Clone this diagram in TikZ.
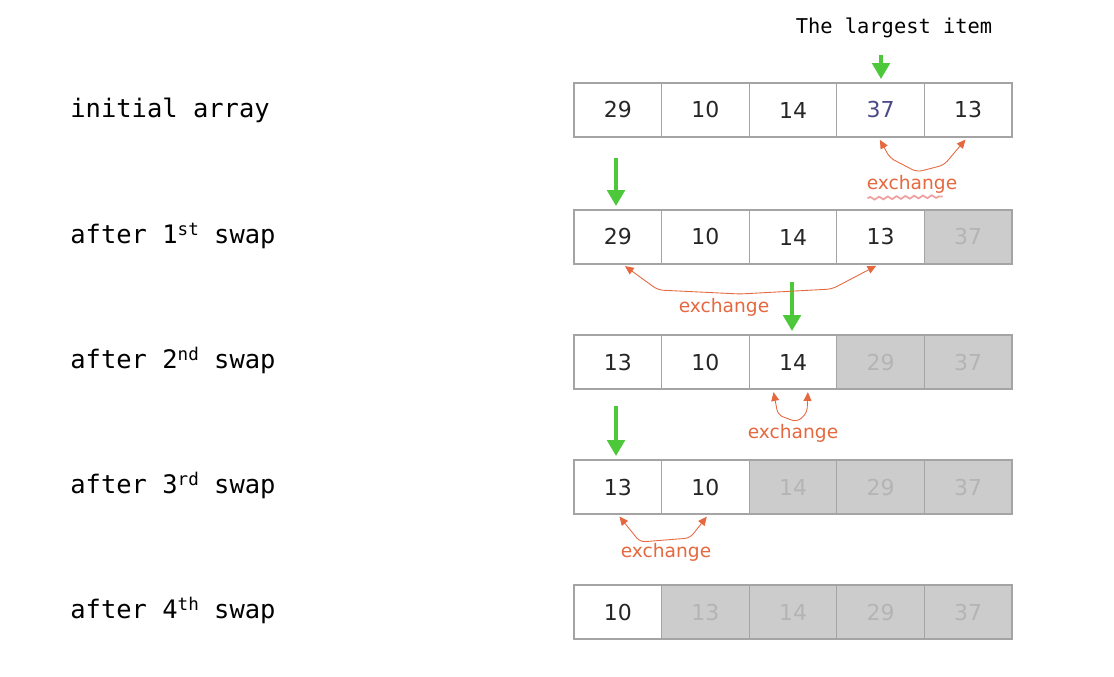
\documentclass[tikz,border=0pt]{standalone}
\usepackage{fontspec}
\setmainfont{DejaVu Sans}
\newfontfamily\labelfont{DejaVu Sans Mono}
\usetikzlibrary{arrows.meta,calc,decorations.pathmorphing}
\definecolor{cellline}{HTML}{A4A4A4}
\definecolor{donefill}{HTML}{CCCCCC}
\definecolor{donetext}{HTML}{B4B4B4}
\definecolor{pickgreen}{HTML}{4CC83A}
\definecolor{swaporange}{HTML}{E5683F}
\definecolor{bluenum}{HTML}{4A4A88}
\definecolor{squigpink}{HTML}{F0A0A0}
\newcommand\ordsup[1]{\raisebox{0.3em}{\fontsize{10}{10}\selectfont #1}}
\tikzset{
  cell/.style={draw=cellline, line width=0.6pt, minimum width=1.752cm, minimum height=1.08cm,
    inner sep=0pt, text=black!85, font=\fontsize{12.5}{14}\selectfont},
  hot/.style={cell, text=bluenum},
  done/.style={cell, fill=donefill, text=donetext},
  rowlabel/.style={anchor=base west, inner sep=0pt, font=\labelfont\fontsize{14.5}{17}\selectfont},
  pick/.style={draw=pickgreen, line width=1.8pt, -{Triangle[width=10pt,length=9pt]}, shorten >=2pt},
  swap/.style={draw=swaporange, line width=0.5pt, rounded corners=3pt,
    {Triangle[width=4.5pt,length=5pt]}-{Triangle[width=4.5pt,length=5pt]},
    shorten <=1.5pt, shorten >=1.5pt},
  swaptext/.style={text=swaporange, inner sep=0pt, font=\fontsize{10.6}{12}\selectfont},
  squiggle/.style={draw=squigpink, line width=1pt, decorate,
    decoration={snake, amplitude=0.8pt, segment length=5pt}}
}
\begin{document}
\begin{tikzpicture}[x=0.02cm, y=-0.02cm]
\useasboundingbox (0,0) rectangle (1114,676);
% row labels
\node[rowlabel] (l1) at (70,117) {initial array};
\node[rowlabel] (l2) at (70,243) {after 1\ordsup{st} swap};
\node[rowlabel] (l3) at (70,368) {after 2\ordsup{nd} swap};
\node[rowlabel] (l4) at (70,493) {after 3\ordsup{rd} swap};
\node[rowlabel] (l5) at (70,618) {after 4\ordsup{th} swap};
% arrays
\foreach \v/\s [count=\i] in {29/cell,10/cell,14/cell,37/hot,13/cell}
  \node[\s] (r1c\i) at ({574+87.6*(\i-0.5)},110) {\v};
\foreach \v/\s [count=\i] in {29/cell,10/cell,14/cell,13/cell,37/done}
  \node[\s] (r2c\i) at ({574+87.6*(\i-0.5)},237) {\v};
\foreach \v/\s [count=\i] in {13/cell,10/cell,14/cell,29/done,37/done}
  \node[\s] (r3c\i) at ({574+87.6*(\i-0.5)},362) {\v};
\foreach \v/\s [count=\i] in {13/cell,10/cell,14/done,29/done,37/done}
  \node[\s] (r4c\i) at ({574+87.6*(\i-0.5)},487) {\v};
\foreach \v/\s [count=\i] in {10/cell,13/done,14/done,29/done,37/done}
  \node[\s] (r5c\i) at ({574+87.6*(\i-0.5)},612) {\v};
% largest item pointers
\node[font=\labelfont\fontsize{11.6}{14}\selectfont] (largest) at (894,28) {The largest item};
\coordinate (p1) at (881,55);
\coordinate (p2) at (616,158);
\coordinate (p3) at (792,282);
\coordinate (p4) at (616,406);
\draw[pick] (p1) -- (p1 |- r1c4.north);
\draw[pick] (p2) -- (p2 |- r2c1.north);
\draw[pick] (p3) -- (p3 |- r3c3.north);
\draw[pick] (p4) -- (p4 |- r4c1.north);
% exchanges
\draw[swap] ($(r1c4.south)+(-2,0)$) -- (890,158) -- (917,172) -- (944,165) -- ($(r1c5.south)+(-1,0)$);
\node[swaptext] (x1) at (912,184) {exchange};
\draw[squiggle] ($(x1.south west)+(1,5)$) -- ($(x1.south east)+(-15,3)$);
\draw[swap] ($(r2c1.south)+(5,0)$) -- (658,290) -- (740,294) -- (832,289) -- ($(r2c4.south)+(-2,0)$);
\node[swaptext] (x2) at (724,307) {exchange};
\draw[swap] ($(r3c3.south)+(-20,0)$) -- (778,415) -- (797,422) -- (807,413) -- ($(r3c3.south)+(15,0)$);
\node[swaptext] (x3) at (793,433) {exchange};
\draw[swap] (r4c1.south) -- (640,542) -- (690,538) -- ($(r4c2.south)+(3,0)$);
\node[swaptext] (x4) at (666,552) {exchange};
\end{tikzpicture}
\end{document}
